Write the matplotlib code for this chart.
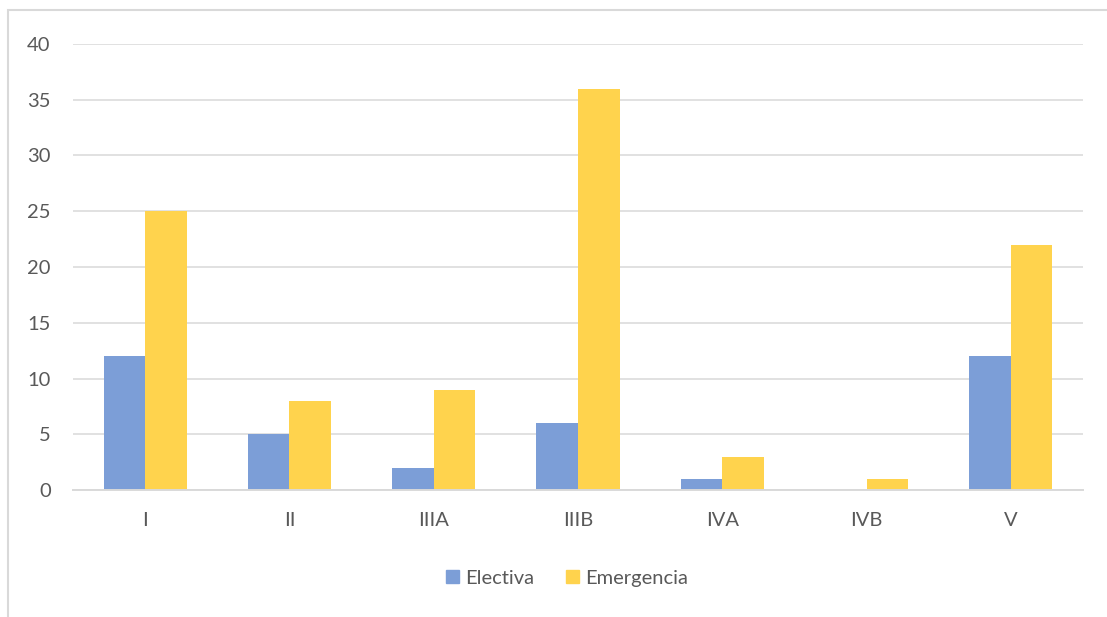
import numpy as np
import matplotlib.pyplot as plt
from matplotlib.patches import Rectangle, Patch

categories = ['I', 'II', 'IIIA', 'IIIB', 'IVA', 'IVB', 'V']
electiva = [12, 5, 2, 6, 1, 0, 12]
emergencia = [25, 8, 9, 36, 3, 1, 22]

blue = '#7C9ED7'
yellow = '#FFD34D'
grid = '#D9D9D9'
text = '#595959'

plt.rcParams['font.family'] = ['Lato', 'DejaVu Sans']

fig = plt.figure(figsize=(11.07, 6.17), dpi=100)
ax = fig.add_axes([0.0659, 0.2058, 0.9124, 0.7229])

x = np.arange(len(categories))
w = 0.288
ax.bar(x - w / 2, electiva, w, color=blue, label='Electiva', zorder=3)
ax.bar(x + w / 2, emergencia, w, color=yellow, label='Emergencia', zorder=3)

ax.set_xlim(-0.5, len(categories) - 0.5)
ax.set_ylim(0, 40)
ax.set_yticks(range(0, 41, 5))
ax.set_xticks(x)
ax.set_xticklabels(categories)
ax.yaxis.grid(True, color=grid, linewidth=1.1, zorder=0)
ax.tick_params(axis='both', length=0, labelsize=14.5, labelcolor=text)
ax.tick_params(axis='y', pad=16)
ax.tick_params(axis='x', pad=16)
for s in ['top', 'right', 'left']:
    ax.spines[s].set_visible(False)
ax.spines['bottom'].set_color(grid)
ax.spines['bottom'].set_linewidth(1.4)
ax.spines['bottom'].set_zorder(4)

handles = [Patch(color=blue, label='Electiva'), Patch(color=yellow, label='Emergencia')]
fig.legend(handles=handles, loc='center', bbox_to_anchor=(0.512, 0.063), ncol=2,
           frameon=False, fontsize=14.5, labelcolor=text, handlelength=0.65,
           handleheight=0.65, handletextpad=0.3, columnspacing=1.6)

# chart frame, only left and top edges fall inside the canvas
fig.patches.append(Rectangle((8 / 1107, -0.1), 1.2, 1.1 - 10 / 617,
                             transform=fig.transFigure, fill=False,
                             edgecolor=grid, linewidth=1.5))

fig.savefig('out.png', dpi=100, facecolor='white')
